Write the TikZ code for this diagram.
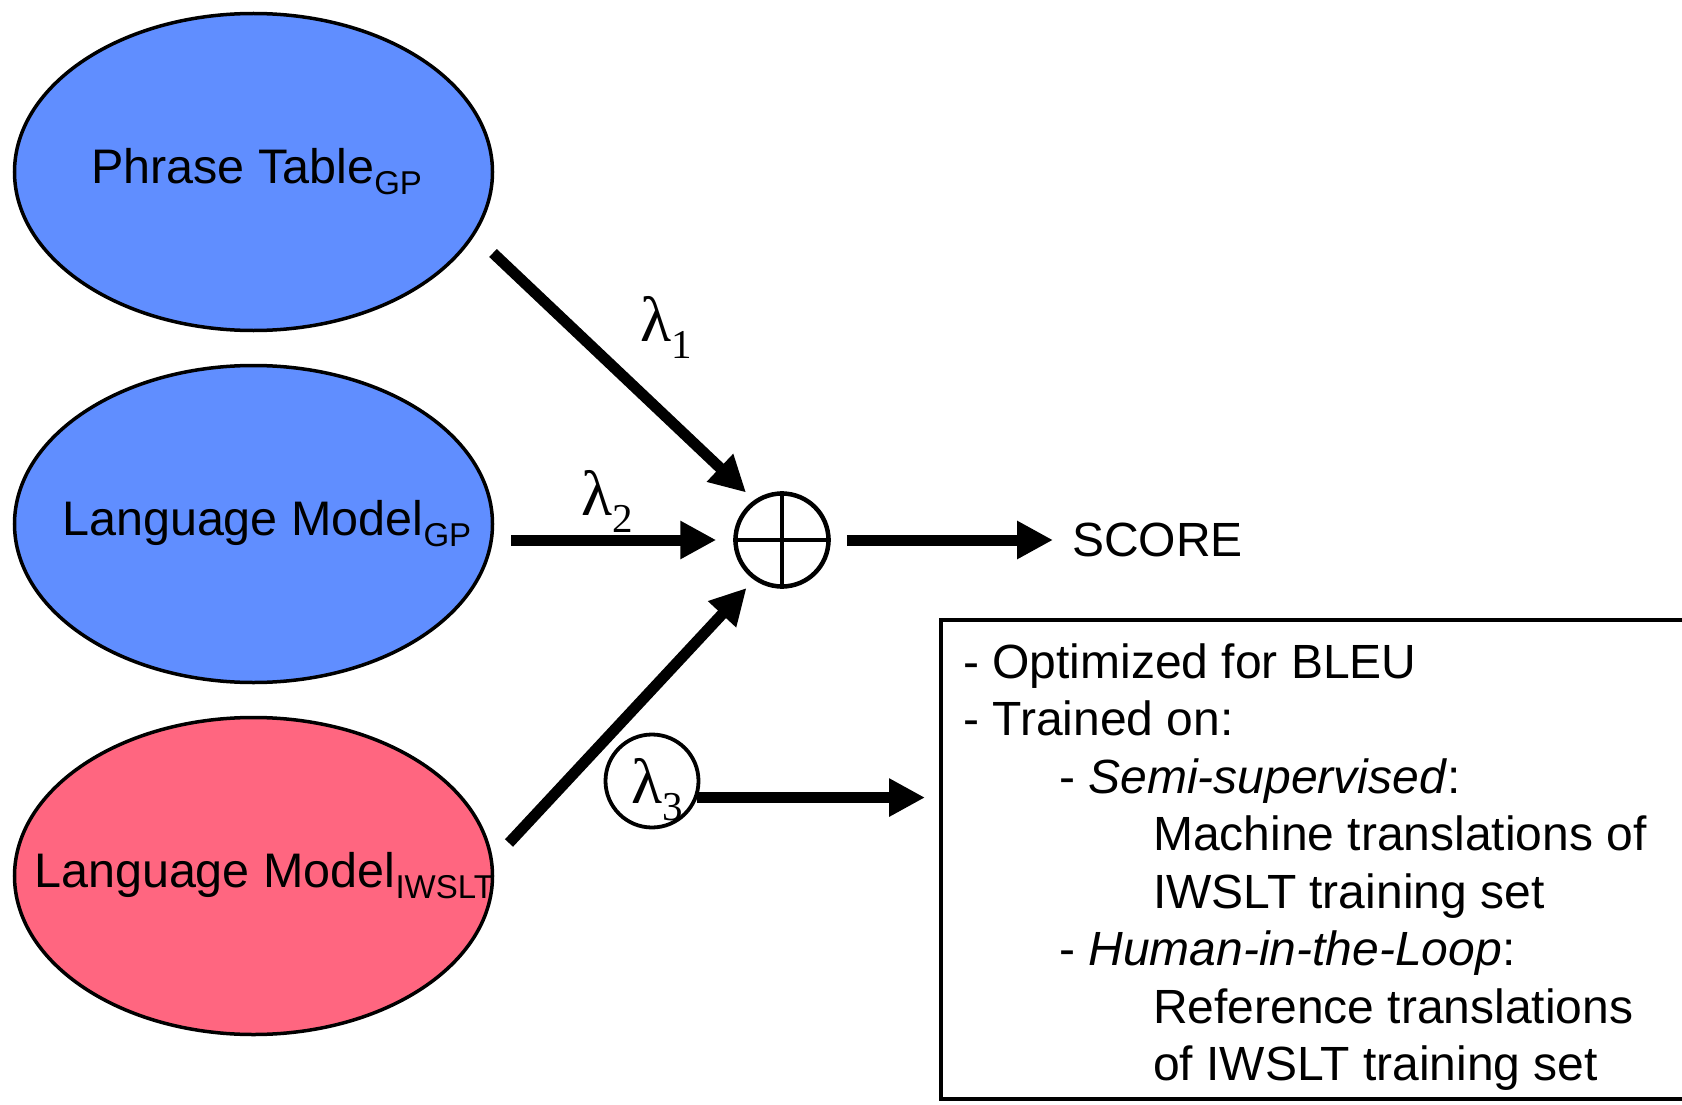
\documentclass[tikz,border=0pt]{standalone}
\usepackage{fontspec}
\setmainfont{Liberation Sans}
\newfontfamily\greekserif{Liberation Serif}
\usetikzlibrary{shapes.geometric, arrows.meta}

\definecolor{gpblue}{RGB}{96,142,255}
\definecolor{iwsltpink}{RGB}{255,102,128}

% lowered subscript for the model names
\newcommand\modelsub[1]{\raisebox{-11.5pt}{\fontsize{33}{33}\selectfont #1}}
% interpolation weight lambda_i
\newcommand\weight[1]{{\greekserif\fontsize{64}{64}\selectfont λ\raisebox{-17pt}{\fontsize{41}{41}\selectfont #1}}}

\begin{document}
\begin{tikzpicture}[x=1pt, y=-1pt,
  model/.style={ellipse, draw=black, line width=3.5pt, minimum width=478pt,
                minimum height=317pt, inner sep=0pt},
  txt/.style={font=\fontsize{48}{50}\selectfont, inner sep=0pt, anchor=base west},
  modeltxt/.style={txt, font=\fontsize{48.5}{50}\selectfont},
  bigarrow/.style={line width=11pt, -{Triangle[length=36pt,width=36pt]}},
  ring/.style={circle, draw=black, line width=4.5pt, minimum size=93pt, inner sep=0pt},
]
\useasboundingbox (0,0) rectangle (1682,1105);

% the three models
\node[model, fill=gpblue]    (pt)   at (253.5,172) {};
\node[model, fill=gpblue]    (lmgp) at (253.5,524) {};
\node[model, fill=iwsltpink] (lmiw) at (253.5,876) {};
\node[modeltxt] (ptlabel)   at (91,183)  {Phrase Table\modelsub{GP}};
\node[modeltxt] (lmgplabel) at (62,535)  {Language Model\modelsub{GP}};
\node[modeltxt] (lmiwlabel) at (34,887)  {Language Model\modelsub{IWSLT}};

% summation node
\node[ring] (sum) at (782,540) {};
\draw[line width=3.5pt] (sum.north) -- (sum.south) (sum.west) -- (sum.east);

% weighted inputs
\coordinate (ptout)   at (493,253);
\coordinate (lmgpout) at (511,540);
\coordinate (lmiwout) at (509,843);
\draw[bigarrow, shorten >=11pt] (ptout) -- (sum.125);
\draw[bigarrow, shorten >=17pt] (lmgpout) -- (sum.west);
\draw[bigarrow, shorten >=11pt] (lmiwout) -- (sum.235);

\node[txt] (w1) at (640,341) {\weight{1}};
\node[txt] (w2) at (581,515) {\weight{2}};

% output
\node[txt, anchor=west] (score) at (1072,540) {SCORE};
\draw[bigarrow, shorten <=16pt, shorten >=19pt] (sum.east) -- (score.west);

% lambda_3 and its explanation
\node[ring, line width=3.8pt] (w3ring) at (652,781) {};
\node[txt] (w3) at (631,803) {\weight{3}};
\coordinate (notesedge) at (941,797);
\draw[bigarrow, shorten >=16pt] (w3ring.-20) -- (w3ring.-20 -| notesedge);

\draw[line width=3.5pt] (1682,620) -- (941,620) -- (941,1099) -- (1682,1099);
\node[txt] (n1) at (963,678)    {- Optimized for BLEU};
\node[txt] (n2) at (963,735.5)  {- Trained on:};
\node[txt] (n3) at (1059,793)   {- \textit{Semi-supervised}:};
\node[txt] (n4) at (1153,850.5) {Machine translations of};
\node[txt] (n5) at (1153,908)   {IWSLT training set};
\node[txt] (n6) at (1059,965.5) {- \textit{Human-in-the-Loop}:};
\node[txt] (n7) at (1153,1023)  {Reference translations};
\node[txt] (n8) at (1153,1080.5){of IWSLT training set};
\end{tikzpicture}
\end{document}
